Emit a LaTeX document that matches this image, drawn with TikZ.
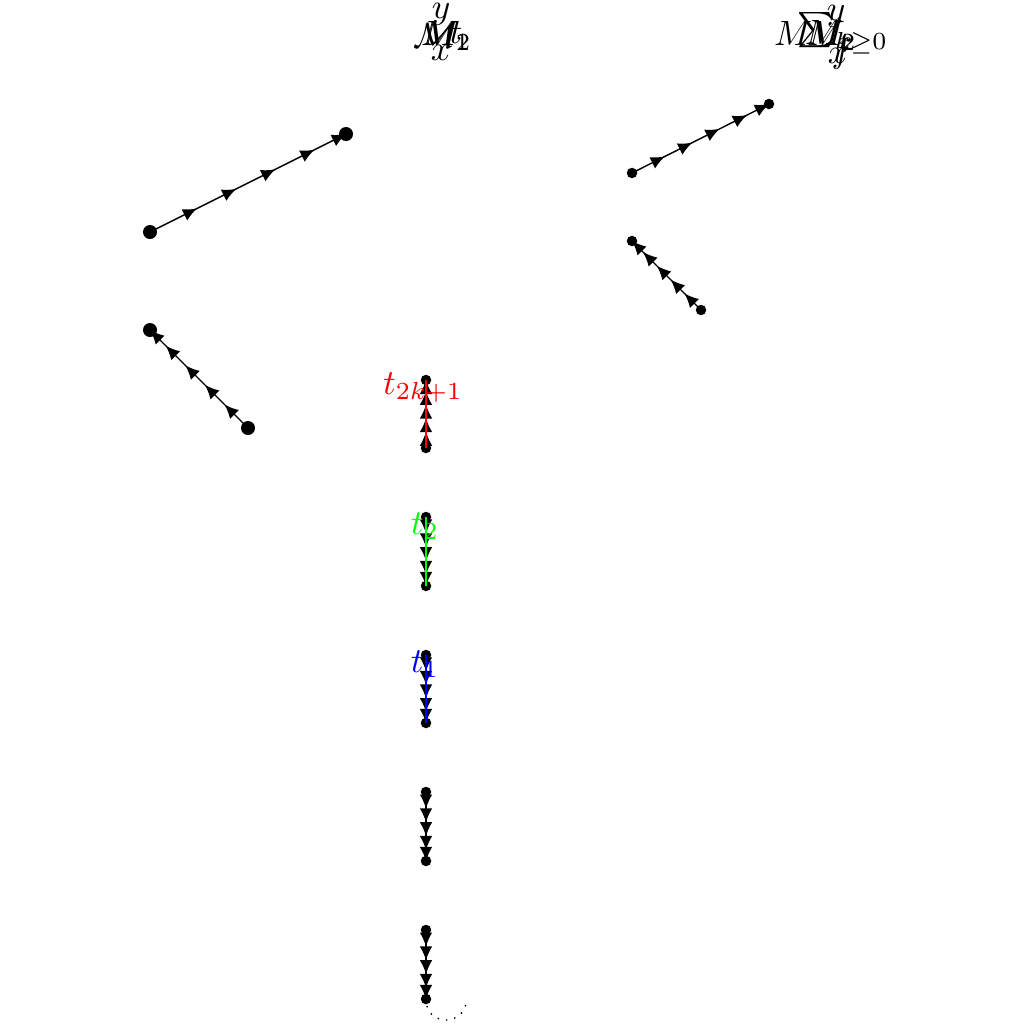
\documentclass[tikz,border=0pt]{standalone}
\usetikzlibrary{arrows.meta,decorations.markings}
\begin{document}
\begin{tikzpicture}[x=0.01cm,y=-0.01cm,
  bigdot/.style={circle,fill=black,inner sep=0pt,minimum size=0.14cm},
  smalldot/.style={circle,fill=black,inner sep=0pt,minimum size=0.105cm},
  arrowline/.style={postaction={decorate},decoration={markings,
    mark=at position 0.24 with {\arrow{Latex[length=4pt,width=3.6pt]}},
    mark=at position 0.44 with {\arrow{Latex[length=4pt,width=3.6pt]}},
    mark=at position 0.64 with {\arrow{Latex[length=4pt,width=3.6pt]}},
    mark=at position 0.84 with {\arrow{Latex[length=4pt,width=3.6pt]}},
    mark=at position 1.0 with {\arrow{Latex[length=4pt,width=3.6pt]}}}},
  colline/.style={line width=0.4pt},
  lab/.style={inner sep=0pt}
]
\useasboundingbox (0,0) rectangle (1024,1024);
% coordinates
\coordinate (a1) at (150,232); \coordinate (a2) at (346,134);
\coordinate (b1) at (150,330); \coordinate (b2) at (248,428);
\coordinate (c1) at (632,173); \coordinate (c2) at (769,104);
\coordinate (d1) at (632,241); \coordinate (d2) at (701,310);
\coordinate (e1) at (426,380); \coordinate (e2) at (426,448);
\coordinate (f1) at (426,517); \coordinate (f2) at (426,586);
\coordinate (g1) at (426,655); \coordinate (g2) at (426,723);
\coordinate (h1) at (426,792); \coordinate (h2) at (426,861);
\coordinate (i1) at (426,930); \coordinate (i2) at (426,999);
\coordinate (j1) at (427,1006); \coordinate (j2) at (466,1004);
% lines
\draw[arrowline] (a1) -- (a2);
\draw[arrowline] (b2) -- (b1);
\draw[arrowline] (c1) -- (c2);
\draw[arrowline] (d2) -- (d1);
\draw[arrowline] (e2) -- (e1);
\draw[arrowline] (f1) -- (f2);
\draw[arrowline] (g1) -- (g2);
\draw[arrowline] (h1) -- (h2);
\draw[arrowline] (i1) -- (i2);
% dots
\node[bigdot] (A1) at (a1) {}; \node[bigdot] (A2) at (a2) {};
\node[bigdot] (B1) at (b1) {}; \node[bigdot] (B2) at (b2) {};
\foreach \p in {c1,c2,d1,d2,e1,e2,f1,f2,g1,g2,h1,h2,i1,i2}
  \node[smalldot] (N\p) at (\p) {};
% colored overlays
\draw[colline,red] (e1) -- (e2);
\draw[colline,green] (f1) -- (f2);
\draw[colline,blue] (g1) -- (g2);
% dotted arc
\draw[dotted] (j1) .. controls (432,1025) and (461,1025) .. (j2);
% labels
\node[lab,red] (L1) at (423,388) {$t_{2k+1}$};
\node[lab,green] (L2) at (425,526) {$t_2$};
\node[lab,blue] (L3) at (425,664) {$t_1$};
% top-left cluster
\node[lab] (T1) at (441,14) {$y$};
\node[lab] (T2) at (441,53) {$x$};
\node[lab] (T3) at (435,35) {$\mathcal{M}$};
\node[lab] (T4) at (446,36) {$M_1$};
\node[lab] (T5) at (447,36) {$M_2$};
\node[lab] (T6) at (456,33) {$t$};
% top-right cluster
\node[lab] (R1) at (793,33) {$M$};
\node[lab,anchor=west] (R2) at (797,33) {$\sum_{k\geq 0}$};
\node[lab] (R3) at (828,35) {$M_t$};
\node[lab] (R4) at (832,36) {$M_2$};
\node[lab] (R6) at (836,16) {$y$};
\node[lab] (R7) at (838,56) {$x$};
\node[lab] (R8) at (842,54) {$f$};
\end{tikzpicture}
\end{document}
